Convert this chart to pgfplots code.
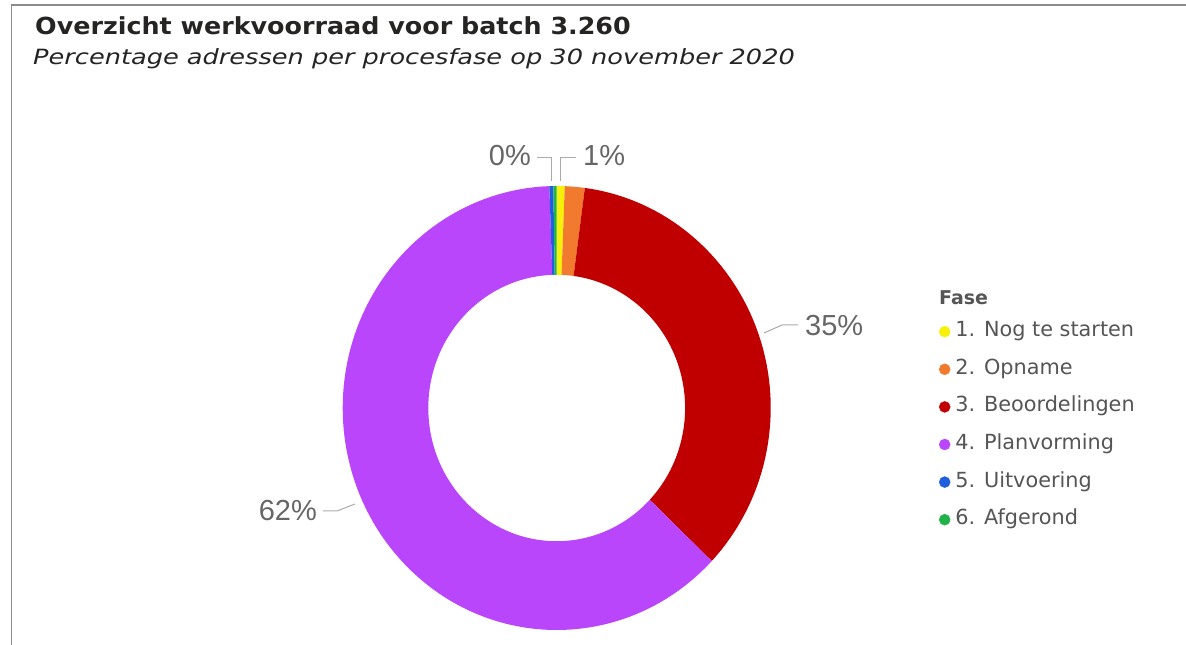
\documentclass[border=0pt]{standalone}
\usepackage{pgfplots}
\usepackage{pgfplotstable}
\pgfplotsset{compat=1.18}
\usepackage{fontspec}
\setmainfont{DejaVu Sans}
\newfontfamily\titlefont[FakeStretch=1.08]{DejaVu Sans}
\newfontfamily\subfont[FakeStretch=1.22]{DejaVu Sans}
\newfontfamily\labelfont{Liberation Sans}

\definecolor{c0}{HTML}{F7F10A}
\definecolor{c1}{HTML}{F27A2E}
\definecolor{c2}{HTML}{C00000}
\definecolor{c3}{HTML}{B946FA}
\definecolor{c4}{HTML}{1F5FDE}
\definecolor{c5}{HTML}{21B24A}
\definecolor{titlecol}{HTML}{252423}
\definecolor{legendgray}{HTML}{555555}
\definecolor{labelgray}{HTML}{666666}
\definecolor{leadergray}{HTML}{AAAAAA}
\definecolor{framegray}{HTML}{8C8C8C}

% share of addresses per phase (%), clockwise from the top
\pgfplotstableread{
fase value
1 0.6
2 1.5
3 35.0
4 62.35
5 0.3
6 0.25
}\fasedata

\begin{document}
\begin{tikzpicture}
\begin{axis}[
  at={(0,0)}, anchor=south west,
  x=214pt, y=222pt,
  xmin=-2.60140, xmax=2.94065,
  ymin=-1.06757, ymax=1.83784,
  hide axis, clip=false,
  legend style={at={(0.79174,0.50124)}, anchor=north west,
    draw=none, fill=none, inner sep=0pt, outer sep=0pt,
    font=\fontsize{20.8}{24}\selectfont, text=legendgray,
    row sep=17.6pt,
    nodes={inner sep=0pt, text height=15pt, text depth=5pt},
    /tikz/every odd column/.style={column sep=5pt}},
  legend cell align=left,
  legend image code/.code={\fill[#1] (5.5pt,0pt) circle (5.5pt);},
]
\pgfmathsetmacro\cum{0}
\pgfplotsforeachungrouped \i in {0,...,5}{
  \pgfplotstablegetelem{\i}{value}\of\fasedata
  \pgfmathsetmacro\aS{90-3.6*\cum}
  \pgfmathsetmacro\cum{\cum+\pgfplotsretval}
  \pgfmathsetmacro\aE{90-3.6*\cum}
  \edef\temp{\noexpand\fill[c\i] (axis cs:{0.6*cos(\aS)},{0.6*sin(\aS)})
    -- (axis cs:{cos(\aS)},{sin(\aS)}) arc[start angle=\aS, end angle=\aE, radius=1]
    -- (axis cs:{0.6*cos(\aE)},{0.6*sin(\aE)}) arc[start angle=\aE, end angle=\aS, radius=0.6]
    -- cycle;}
  \temp
}
\addlegendimage{c0}\addlegendentry{1. Nog te starten}
\addlegendimage{c1}\addlegendentry{2. Opname}
\addlegendimage{c2}\addlegendentry{3. Beoordelingen}
\addlegendimage{c3}\addlegendentry{4. Planvorming}
\addlegendimage{c4}\addlegendentry{5. Uitvoering}
\addlegendimage{c5}\addlegendentry{6. Afgerond}
\end{axis}
\begin{scope}[x=1pt, y=-1pt, shift={(0,645pt)}]
  \draw[framegray, line width=1.5pt] (11.5,645) -- (11.5,5) -- (1186,5);
  \node[anchor=base west, inner sep=0pt, text=titlecol,
    font=\titlefont\bfseries\fontsize{23.5}{27}\selectfont] at (35,35)
    {Overzicht werkvoorraad voor batch 3.260};
  \node[anchor=base west, inner sep=0pt, text=titlecol,
    font=\subfont\itshape\fontsize{21}{25}\selectfont] at (33,65)
    {Percentage adressen per procesfase op 30 november 2020};
  \node[anchor=base west, inner sep=0pt, text=legendgray,
    font=\bfseries\fontsize{19}{23}\selectfont] at (939,305) {Fase};
  % data labels with leader lines
  \draw[leadergray, line width=1pt] (537,158) -- (551,158) -- (551,181);
  \draw[leadergray, line width=1pt] (560,181) -- (560,158) -- (576,158);
  \draw[leadergray, line width=1pt] (764,333) -- (782,325) -- (798,325);
  \draw[leadergray, line width=1pt] (323,511) -- (337,511) -- (355,504);
  \begin{scope}[every node/.style={inner sep=0pt, text=labelgray,
      font=\labelfont\fontsize{29}{34}\selectfont}]
    \node[anchor=base east] at (531,166) {0\%};
    \node[anchor=base west] at (583,166) {1\%};
    \node[anchor=base west] at (805,336) {35\%};
    \node[anchor=base east] at (317,521) {62\%};
  \end{scope}
  \pgfresetboundingbox
  \path (0,0) rectangle (1186,645);
\end{scope}
\end{tikzpicture}
\end{document}
